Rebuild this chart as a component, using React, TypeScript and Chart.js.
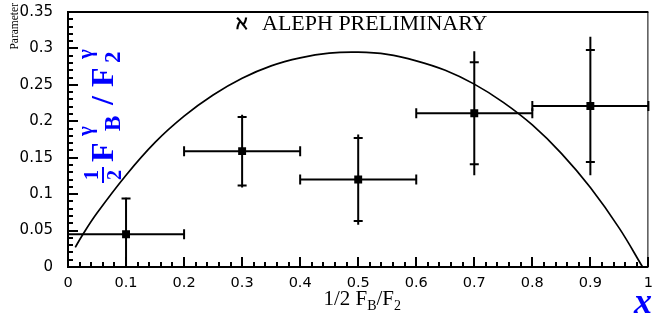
import React, { useEffect, useRef } from "react";
import { Chart, registerables } from "chart.js";

Chart.register(...registerables);

// ---- data ----
const xCenters = [0.1, 0.3, 0.5, 0.7, 0.9];
const yValues = [0.045, 0.159, 0.12, 0.211, 0.221];
const xHalfWidth = [0.1, 0.1, 0.1, 0.1, 0.1];
const statErr = [0.049, 0.047, 0.057, 0.07, 0.077];
const totalErr = [0.05, 0.05, 0.062, 0.085, 0.095];

const curveX = [0.0125, 0.025, 0.05, 0.1, 0.15, 0.2, 0.25, 0.3, 0.35, 0.4, 0.45, 0.5, 0.55, 0.6, 0.65, 0.7, 0.75, 0.8, 0.85, 0.9, 0.95, 0.99];
const curveY = [0.027, 0.044, 0.074, 0.126, 0.171, 0.207, 0.236, 0.259, 0.276, 0.287, 0.2935, 0.2948, 0.2918, 0.283, 0.27, 0.251, 0.226, 0.195, 0.156, 0.109, 0.053, 0.0];

const xTickValues = [0, 0.1, 0.2, 0.3, 0.4, 0.5, 0.6, 0.7, 0.8, 0.9, 1];
const xTickLabels = ["0", "0.1", "0.2", "0.3", "0.4", "0.5", "0.6", "0.7", "0.8", "0.9", "1"];
const yTickValues = [0, 0.05, 0.1, 0.15, 0.2, 0.25, 0.3, 0.35];
const yTickLabels = ["0", "0.05", "0.1", "0.15", "0.2", "0.25", "0.3", "0.35"];

const titleText = "ALEPH PRELIMINARY";
const alephText = "\u2135";
const yAxisTitle = "Parameter";
const BLUE = "#0000ff";

const decorPlugin = {
  id: "decor",
  beforeDatasetsDraw(chart: any) {
    const { ctx, chartArea: a, scales } = chart;
    const x = scales.x, y = scales.y;
    ctx.save();
    ctx.beginPath();
    ctx.rect(a.left, a.top - 2, a.right - a.left + 2, a.bottom - a.top + 2);
    ctx.clip();
    ctx.strokeStyle = "#000";
    ctx.lineWidth = 2;
    const seg = (x1: number, y1: number, x2: number, y2: number) => {
      ctx.beginPath();
      ctx.moveTo(x1, y1);
      ctx.lineTo(x2, y2);
      ctx.stroke();
    };
    xCenters.forEach((xc, i) => {
      const px = x.getPixelForValue(xc);
      const py = y.getPixelForValue(yValues[i]);
      const xl = x.getPixelForValue(xc - xHalfWidth[i]);
      const xr = x.getPixelForValue(xc + xHalfWidth[i]);
      const yt = y.getPixelForValue(yValues[i] + totalErr[i]);
      const yb = y.getPixelForValue(yValues[i] - totalErr[i]);
      const st = y.getPixelForValue(yValues[i] + statErr[i]);
      const sb = y.getPixelForValue(yValues[i] - statErr[i]);
      seg(xl, py, xr, py);
      seg(xl, py - 5, xl, py + 5);
      seg(xr, py - 5, xr, py + 5);
      seg(px, yt, px, yb);
      seg(px - 4.5, st, px + 4.5, st);
      seg(px - 4.5, sb, px + 4.5, sb);
    });
    ctx.restore();
  },
  afterDraw(chart: any) {
    const { ctx, chartArea: a, scales } = chart;
    const x = scales.x, y = scales.y;
    ctx.save();
    ctx.strokeStyle = "#000";
    // frame
    ctx.lineWidth = 2;
    ctx.beginPath();
    ctx.moveTo(a.left, a.top);
    ctx.lineTo(a.right, a.top);
    ctx.moveTo(a.left, a.top - 1);
    ctx.lineTo(a.left, a.bottom + 1);
    ctx.moveTo(a.left - 1, a.bottom);
    ctx.lineTo(a.right, a.bottom);
    ctx.stroke();
    ctx.lineWidth = 1;
    ctx.beginPath();
    ctx.moveTo(a.right - 0.5, a.top);
    ctx.lineTo(a.right - 0.5, a.bottom);
    ctx.stroke();
    // y ticks (inward)
    ctx.lineWidth = 2;
    for (let i = 0; i <= 35; i++) {
      const py = Math.round(y.getPixelForValue(i / 100));
      const len = i % 5 === 0 ? 10 : 5;
      ctx.beginPath();
      ctx.moveTo(a.left, py);
      ctx.lineTo(a.left + len, py);
      ctx.stroke();
    }
    // x ticks (inward)
    for (let i = 0; i <= 50; i++) {
      const px = Math.round(x.getPixelForValue(i / 50));
      const len = i % 5 === 0 ? 10 : 5;
      ctx.beginPath();
      ctx.moveTo(px, a.bottom);
      ctx.lineTo(px, a.bottom - len);
      ctx.stroke();
    }

    // title
    ctx.fillStyle = "#000";
    ctx.textBaseline = "alphabetic";
    ctx.textAlign = "left";
    ctx.font = 'bold 19px "DejaVu Serif"';
    ctx.fillText(alephText, 236, 29);
    ctx.font = '22px "Liberation Serif"';
    ctx.fillText(titleText, 262, 29.5);

    // x axis title: 1/2 F_B/F_2
    const main = '21px "Liberation Serif"';
    const sub = '14px "Liberation Serif"';
    const parts: [string, string, number][] = [
      ["1/2 F", main, 0],
      ["B", sub, 5],
      ["/F", main, 0],
      ["2", sub, 5],
    ];
    let total = 0;
    parts.forEach(([t, f]) => { ctx.font = f; total += ctx.measureText(t).width; });
    let cx = (a.left + a.right) / 2 - total / 2 + 4;
    parts.forEach(([t, f, dy]) => {
      ctx.font = f;
      ctx.fillText(t, cx, 305 + dy);
      cx += ctx.measureText(t).width;
    });

    // y axis title "Parameter"
    ctx.save();
    ctx.translate(18, 3);
    ctx.rotate(-Math.PI / 2);
    ctx.font = '11.5px "Liberation Serif"';
    ctx.textAlign = "right";
    ctx.fillText(yAxisTitle, 0, 0);
    ctx.restore();

    // blue formula: 1/2 F^γ_B / F^γ_2 (rotated)
    ctx.save();
    ctx.translate(113, 183);
    ctx.rotate(-Math.PI / 2);
    ctx.fillStyle = BLUE;
    ctx.strokeStyle = BLUE;
    ctx.textAlign = "center";
    ctx.font = 'bold 20px "Liberation Serif"';
    ctx.fillText("1", 8, -15);
    ctx.fillText("2", 8, 8);
    ctx.lineWidth = 2;
    ctx.beginPath();
    ctx.moveTo(0, -10);
    ctx.lineTo(16, -10);
    ctx.stroke();
    ctx.textAlign = "left";
    ctx.font = 'bold 32px "Liberation Serif"';
    ctx.fillText("F", 21, 0);
    ctx.font = 'bold 21px "Liberation Serif"';
    ctx.fillText("\u03B3", 47, -21);
    ctx.font = 'bold 23px "Liberation Serif"';
    ctx.fillText("B", 52, 6.5);
    ctx.font = 'bold 32px "Liberation Serif"';
    ctx.fillText("/", 78, 0);
    ctx.fillText("F", 96, 0);
    ctx.font = 'bold 21px "Liberation Serif"';
    ctx.fillText("\u03B3", 124, -21);
    ctx.font = 'bold 23px "Liberation Serif"';
    ctx.fillText("2", 120, 6.5);
    ctx.restore();

    // blue x
    ctx.fillStyle = BLUE;
    ctx.font = 'italic bold 36px "Liberation Serif"';
    ctx.textAlign = "left";
    ctx.fillText("x", 634, 313);
    ctx.restore();
  },
};

export default function App() {
  const ref = useRef<HTMLCanvasElement | null>(null);
  useEffect(() => {
    if (!ref.current) return;
    const chart = new Chart(ref.current, {
      type: "scatter",
      data: {
        datasets: [
          {
            type: "line",
            data: curveX.map((cx, i) => ({ x: cx, y: curveY[i] })),
            borderColor: "#000",
            borderWidth: 1.7,
            pointRadius: 0,
            showLine: true,
            fill: false,
            tension: 0.4,
          } as any,
          {
            type: "scatter",
            data: xCenters.map((cx, i) => ({ x: cx, y: yValues[i] })),
            pointStyle: "rect",
            pointRadius: 5.6,
            pointBackgroundColor: "#000",
            pointBorderColor: "#000",
            pointBorderWidth: 0,
          } as any,
        ],
      },
      options: {
        animation: false,
        responsive: false,
        devicePixelRatio: 1,
        layout: { padding: { top: 12, right: 1, left: 0, bottom: 0 } },
        plugins: { legend: { display: false }, tooltip: { enabled: false }, title: { display: false } },
        scales: {
          x: {
            type: "linear",
            min: 0,
            max: 1,
            grid: { display: false, drawTicks: false },
            border: { display: false },
            afterBuildTicks: (s: any) => { s.ticks = xTickValues.map((v) => ({ value: v })); },
            afterFit: (s: any) => { s.height = 53; s.paddingLeft = 0; s.paddingRight = 0; },
            ticks: {
              autoSkip: false,
              maxRotation: 0,
              padding: 8,
              color: "#000",
              font: { family: "DejaVu Sans", size: 14.5 },
              callback: (_v: any, i: number) => xTickLabels[i],
            },
          },
          y: {
            type: "linear",
            min: 0,
            max: 0.35,
            grid: { display: false, drawTicks: false },
            border: { display: false },
            afterBuildTicks: (s: any) => { s.ticks = yTickValues.map((v) => ({ value: v })); },
            afterFit: (s: any) => { s.width = 68; s.paddingTop = 0; s.paddingBottom = 0; },
            ticks: {
              autoSkip: false,
              padding: 15,
              color: "#000",
              font: { family: "DejaVu Sans", size: 15 },
              callback: (_v: any, i: number) => yTickLabels[i],
            },
          },
        },
      },
      plugins: [decorPlugin],
    } as any);
    return () => chart.destroy();
  }, []);
  return (
    <div style={{ position: "fixed", left: 0, top: 0, width: 654, height: 320, background: "#fff" }}>
      <canvas ref={ref} width={654} height={320} style={{ width: 654, height: 320, display: "block" }} />
    </div>
  );
}
